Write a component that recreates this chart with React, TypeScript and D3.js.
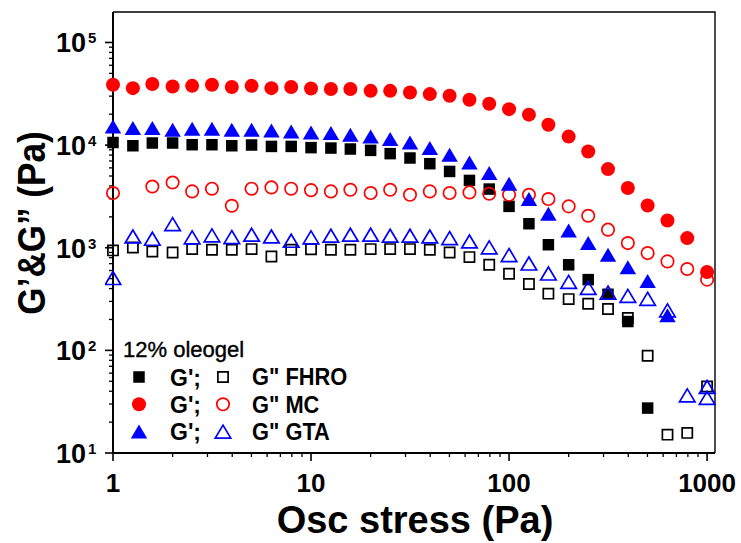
import { useRef, useEffect } from 'react';
import * as d3 from 'd3';

// Oscillatory stress sweep (Pa), 10 points per decade
const STRESS = [1, 1.26, 1.58, 2, 2.51, 3.16, 3.98, 5.01, 6.31, 7.94, 10, 12.6, 15.8, 20, 25.1, 31.6, 39.8, 50.1, 63.1, 79.4,
  100, 126, 158, 200, 251, 316, 398, 501, 631, 794, 1000];

const FHRO_G1 = [10600, 9860, 10480, 10480, 10090, 10090, 9860, 10020, 9710, 9710, 9450, 9360, 9160, 8890, 8260, 7490, 6590, 5540, 4530, 3730,
  2530, 1714, 1070, 682, 489, 352, 191, 27.4, null, null, null];
const FHRO_G2 = [942, 1007, 920, 900, 970, 957, 957, 970, 822, 957, 965, 957, 957, 970, 970, 970, 957, 900, 811, 682,
  558, 443, 357, 316, 285, 253, 207, 88.7, 15.1, 15.7, 44.5];
const MC_G1 = [38700, 35900, 39400, 37200, 37800, 38700, 36800, 37800, 35900, 36800, 35600, 35200, 35200, 33800, 33800, 32600, 31400, 30300, 27700, 25300,
  22400, 19800, 15800, 12100, 8670, 5840, 3820, 2580, 1845, 1242, 580];
const MC_G2 = [3410, null, 3950, 4320, 3540, 3760, 2565, 3760, 3870, 3760, 3640, 3540, 3670, 3410, 3670, 3280, 3540, 3410, 3460, 3360,
  3280, 3280, 2980, 2530, 2050, 1500, 1110, 887, 736, 621, 489];
const GTA_G1 = [15200, 14650, 14650, 14100, 14450, 14450, 14100, 14100, 13900, 13600, 13270, 13100, 12620, 12140, 11450, 10600, 9360, 8050, 6780, 5340,
  4200, 2980, 2140, 1470, 1110, 853, 647, 475, 220, null, null];
const GTA_G2 = [507, 1288, 1224, 1701, 1260, 1318, 1271, 1340, 1288, 1170, 1260, 1310, 1340, 1340, 1310, 1310, 1288, 1243, 1151, 1007,
  849, 702, 561, 465, 406, 366, 340, 318, 245, 36.4, 44];
// repeated measurement at the last stress
const GTA_G2_EXTRA: [number, number][] = [[1000, 34.4]];

const X_TICKS = [1, 10, 100, 1000];
const Y_TICKS = [1, 2, 3, 4, 5];
const LEGEND_TITLE = '12% oleogel';
const LEGEND_ROWS = ['G" FHRO', 'G" MC', 'G" GTA'];

type Shape = 'square' | 'circle' | 'triangle';

const SERIES: { values: (number | null)[]; shape: Shape; color: string; filled: boolean }[] = [
  { values: FHRO_G1, shape: 'square', color: '#000000', filled: true },
  { values: FHRO_G2, shape: 'square', color: '#000000', filled: false },
  { values: MC_G1, shape: 'circle', color: '#ff0000', filled: true },
  { values: MC_G2, shape: 'circle', color: '#ff0000', filled: false },
  { values: GTA_G1, shape: 'triangle', color: '#0000ff', filled: true },
  { values: GTA_G2, shape: 'triangle', color: '#0000ff', filled: false },
];

const FONT = '"Liberation Sans", Arial, Helvetica, sans-serif';

function symbolPath(shape: Shape, filled: boolean) {
  if (shape === 'square') {
    const s = filled ? 11.5 : 10.2;
    return `M${-s / 2},${-s / 2}h${s}v${s}h${-s}Z`;
  }
  if (shape === 'circle') {
    const r = filled ? 7 : 6.2;
    return `M${r},0A${r},${r} 0 1,1 ${-r},0A${r},${r} 0 1,1 ${r},0Z`;
  }
  const w = filled ? 16.5 : 15.5;
  const h = filled ? 14 : 13;
  return `M0,${-h / 2}L${w / 2},${h / 2}L${-w / 2},${h / 2}Z`;
}

export default function App() {
  const svgRef = useRef<SVGSVGElement>(null);

  useEffect(() => {
    if (!svgRef.current) return;
    const svg = d3.select(svgRef.current);
    svg.selectAll('*').remove();

    const width = 741;
    const height = 543;
    const margin = { top: 12, right: 26, bottom: 90, left: 113 };
    const innerW = width - margin.left - margin.right;
    const innerH = height - margin.top - margin.bottom;

    const x = d3.scaleLog().domain([1, Math.pow(10, 3.04)]).range([0, innerW]);
    const y = d3.scaleLog().domain([10, Math.pow(10, 5.297)]).range([innerH, 0]);

    svg.append('rect').attr('width', width).attr('height', height).attr('fill', '#fff');

    const g = svg.append('g').attr('transform', `translate(${margin.left},${margin.top})`);

    // Frame (top / right)
    g.append('path')
      .attr('d', `M0,0H${innerW}V${innerH}`)
      .attr('fill', 'none').attr('stroke', '#000').attr('stroke-width', 1.4);

    // Minor ticks
    const xMinor = d3.range(0, 3).flatMap((e) => d3.range(2, 10).map((m) => m * Math.pow(10, e)));
    const yMinor = d3.range(1, 5).flatMap((e) => d3.range(2, 10).map((m) => m * Math.pow(10, e)))
      .filter((v) => y(v) >= 0);
    g.append('g').selectAll('line').data(xMinor).join('line')
      .attr('x1', (d) => x(d)).attr('x2', (d) => x(d))
      .attr('y1', innerH).attr('y2', innerH + 4)
      .attr('stroke', '#000').attr('stroke-width', 1.3);
    g.append('g').selectAll('line').data(X_TICKS).join('line')
      .attr('x1', (d) => x(d)).attr('x2', (d) => x(d))
      .attr('y1', innerH).attr('y2', innerH + 8)
      .attr('stroke', '#000').attr('stroke-width', 1.6);
    g.append('g').selectAll('line').data(yMinor).join('line')
      .attr('x1', -4).attr('x2', 0)
      .attr('y1', (d) => y(d)).attr('y2', (d) => y(d))
      .attr('stroke', '#000').attr('stroke-width', 1.3);
    g.append('g').selectAll('line').data(Y_TICKS).join('line')
      .attr('x1', -8).attr('x2', 0)
      .attr('y1', (d) => y(Math.pow(10, d))).attr('y2', (d) => y(Math.pow(10, d)))
      .attr('stroke', '#000').attr('stroke-width', 1.6);

    // Axis lines
    g.append('path')
      .attr('d', `M0,0V${innerH}H${innerW}`)
      .attr('fill', 'none').attr('stroke', '#000').attr('stroke-width', 2);

    // X tick labels
    g.append('g').selectAll('text').data(X_TICKS).join('text')
      .attr('x', (d) => x(d)).attr('y', innerH + 39)
      .attr('text-anchor', 'middle')
      .style('font-family', FONT).style('font-weight', 'bold').style('font-size', '26px')
      .text((d) => String(d));

    // Y tick labels 10^n
    Y_TICKS.forEach((p) => {
      const yy = y(Math.pow(10, p));
      g.append('text')
        .attr('x', -27).attr('y', yy + 10)
        .attr('text-anchor', 'end')
        .style('font-family', FONT).style('font-weight', 'bold').style('font-size', '27px')
        .text('10');
      g.append('text')
        .attr('x', -25).attr('y', yy + 1)
        .style('font-family', FONT).style('font-weight', 'bold').style('font-size', '15px')
        .text(String(p));
    });

    // Data
    const clip = g.append('clipPath').attr('id', 'plotclip');
    clip.append('rect').attr('x', -8).attr('y', -8).attr('width', innerW + 16).attr('height', innerH + 8);

    const marks = g.append('g').attr('clip-path', 'url(#plotclip)');
    SERIES.forEach((s) => {
      const pts: [number, number][] = [];
      s.values.forEach((v, i) => { if (v != null) pts.push([STRESS[i], v]); });
      if (s.values === GTA_G2) pts.push(...GTA_G2_EXTRA);
      marks.append('g').selectAll('path').data(pts).join('path')
        .attr('d', symbolPath(s.shape, s.filled))
        .attr('transform', (d) => `translate(${x(d[0])},${y(d[1])})`)
        .attr('fill', s.filled ? s.color : 'none')
        .attr('stroke', s.filled ? 'none' : s.color)
        .attr('stroke-width', 1.7);
    });

    // Legend
    const lg = svg.append('g');
    lg.append('text')
      .attr('x', 123).attr('y', 357)
      .style('font-family', FONT).style('font-size', '22px').style('font-weight', 500)
      .style('stroke', '#000').style('stroke-width', 0.4)
      .text(LEGEND_TITLE);
    LEGEND_ROWS.forEach((label, i) => {
      const cy = 377 + i * 27.3;
      const filled = SERIES[i * 2];
      const open = SERIES[i * 2 + 1];
      lg.append('path').attr('d', symbolPath(filled.shape, true))
        .attr('transform', `translate(139,${cy})`).attr('fill', filled.color);
      lg.append('text')
        .attr('x', 170).attr('y', cy + 8.5)
        .style('font-family', FONT).style('font-weight', 'bold').style('font-size', '23px')
        .text("G';");
      lg.append('path').attr('d', symbolPath(open.shape, false))
        .attr('transform', `translate(223,${cy})`).attr('fill', 'none')
        .attr('stroke', open.color).attr('stroke-width', 1.7);
      lg.append('text')
        .attr('x', 252).attr('y', cy + 8.5)
        .attr('transform', `translate(252,0) scale(0.95,1) translate(-252,0)`)
        .style('font-family', FONT).style('font-weight', 'bold').style('font-size', '23px')
        .text(label);
    });

    // Axis titles
    svg.append('text')
      .attr('x', 415).attr('y', 533)
      .attr('text-anchor', 'middle')
      .style('font-family', FONT).style('font-weight', 'bold').style('font-size', '38px')
      .text('Osc stress (Pa)');
    svg.append('text')
      .attr('transform', `translate(45,223) rotate(-90) scale(0.9,1)`)
      .attr('text-anchor', 'middle')
      .style('font-family', FONT).style('font-weight', 'bold').style('font-size', '39px')
      .text('G\u2019&G\u201d (Pa)');
  }, []);

  return (
    <svg ref={svgRef} width={741} height={543}
      style={{ position: 'absolute', left: 0, top: 0, display: 'block' }} />
  );
}
